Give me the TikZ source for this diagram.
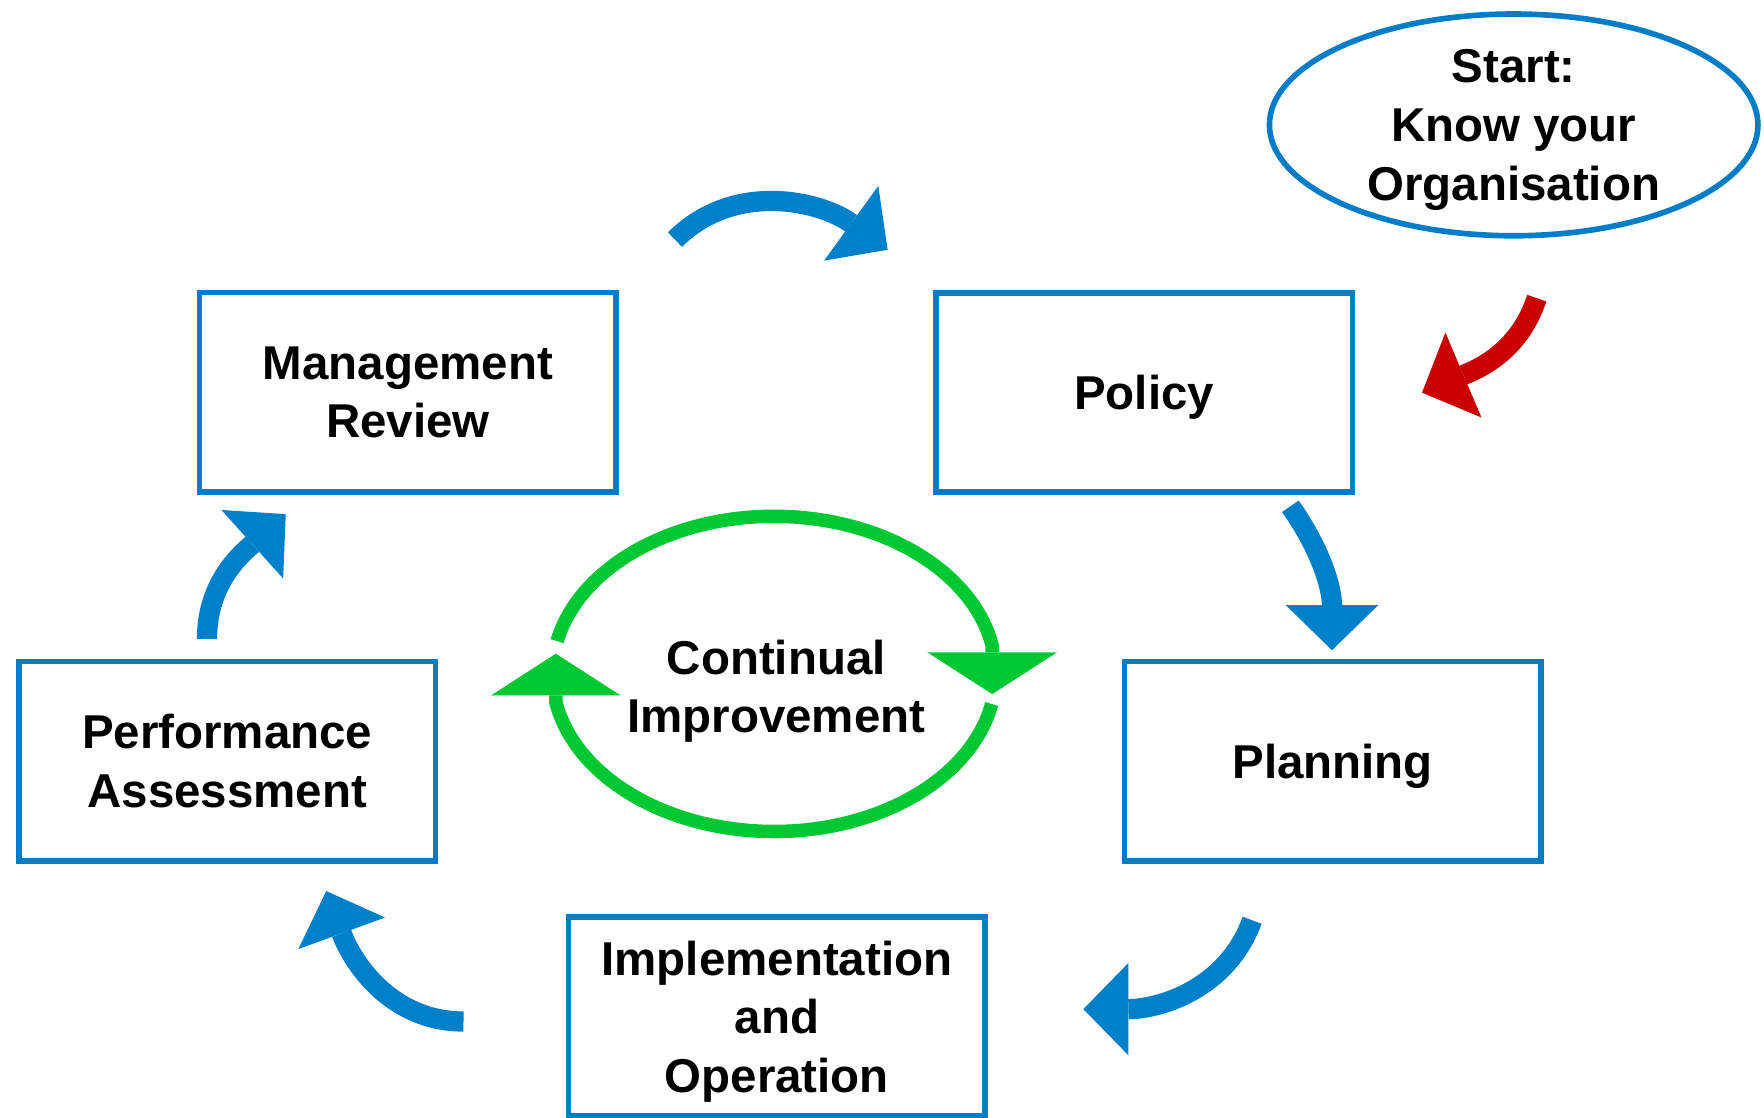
\documentclass[tikz,border=0pt]{standalone}
\usepackage{fontspec}
\setmainfont{Liberation Sans}
\usetikzlibrary{shapes.geometric,arrows.meta}
\definecolor{boxblue}{RGB}{0,125,198}
\definecolor{arrowblue}{RGB}{0,128,200}
\definecolor{loopgreen}{RGB}{0,200,50}
\definecolor{startred}{RGB}{200,0,0}
\newcommand{\lbl}{\bfseries\fontsize{12}{14.8}\selectfont}
\tikzset{
  stagebox/.style={draw=boxblue, line width=0.05cm, minimum width=3.70cm, minimum height=1.77cm, inner sep=0pt, text depth=0pt, align=center, font=\lbl},
  startbubble/.style={ellipse, draw=boxblue, line width=0.05cm, minimum width=4.34cm, minimum height=1.97cm, inner sep=0pt, text depth=0pt, align=center, font=\lbl},
  bigarrow/.style={line width=0.18cm, -{Triangle[width=0.82cm,length=0.40cm,line width=0pt]}},
  looparrow/.style={draw=loopgreen, line width=0.12cm, line join=round, -{Triangle[width=1.15cm,length=0.37cm,line width=0pt]}}
}

\begin{document}
\begin{tikzpicture}[x=0.01cm,y=0.01cm]
        \useasboundingbox (0,0) rectangle (1568,-993);
        % stages of the cycle
        \node[startbubble] (start) at (1345.5,-111) {Start:\\Know your\\Organisation};
        \node[stagebox] (policy) at (1017,-349) {Policy};
        \node[stagebox] (planning) at (1184.5,-676.5) {Planning};
        \node[stagebox] (implop) at (690.5,-903.5) {Implementation\\and\\Operation};
        \node[stagebox] (perfass) at (202,-676.5) {Performance\\Assessment};
        \node[stagebox] (mgmtrev) at (362.5,-348.5) {Management\\Review};
        \node[font=\lbl, align=center, text depth=0pt] (contimp) at (690,-610) {Continual\\Improvement};
        % free ends of the arrows
        \coordinate (starttail) at (1366,-265);
        \coordinate (starttip) at (1264,-349);
        \coordinate (reviewtail) at (600,-213);
        \coordinate (reviewtip) at (789,-222);
        \coordinate (policytail) at (1147,-450);
        \coordinate (policytip) at (1184,-578);
        \coordinate (planningtail) at (1113,-818);
        \coordinate (planningtip) at (963,-897);
        \coordinate (impltail) at (412,-908);
        \coordinate (impltip) at (290,-792);
        \coordinate (perftail) at (184,-568);
        \coordinate (perftip) at (254,-457);
        \draw[bigarrow, draw=startred] (starttail) to[out=-108,in=23] (starttip);
        \draw[bigarrow, draw=arrowblue] (reviewtail) to[out=45,in=144] (reviewtip);
        \draw[bigarrow, draw=arrowblue] (policytail) to[out=-55,in=90] (policytip);
        \draw[bigarrow, draw=arrowblue] (planningtail) to[out=-110,in=0] (planningtip);
        \draw[bigarrow, draw=arrowblue] (impltail) to[out=180,in=-70] (impltip);
        \draw[bigarrow, draw=arrowblue] (perftail) to[out=90,in=-138] (perftip);
        % loop round continual improvement
        \coordinate (loopc) at (688,-599);
        \draw[looparrow] (loopc) ++(-11:1.97cm and 1.40cm) arc[start angle=-11, end angle=-169.7, x radius=1.97cm, y radius=1.40cm] -- ++(0,43);
        \draw[looparrow] (loopc) ++(168:1.97cm and 1.40cm) arc[start angle=168, end angle=10.3, x radius=1.97cm, y radius=1.40cm] -- ++(0,-43);
\end{tikzpicture}
\end{document}
